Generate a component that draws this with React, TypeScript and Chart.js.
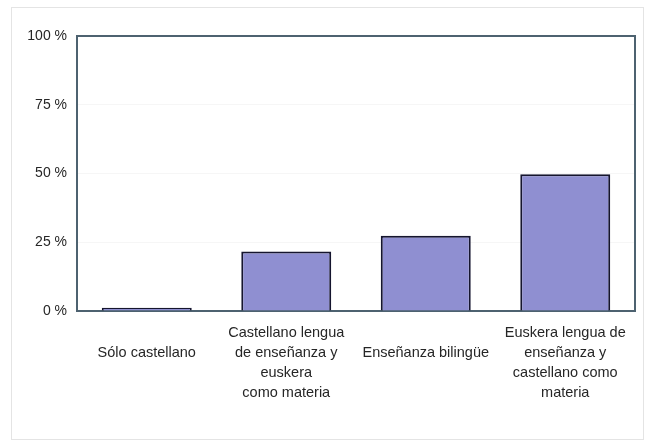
import React, { useEffect, useRef } from "react";
import { Chart, registerables } from "chart.js";

Chart.register(...registerables);

const categories: string[][] = [
  ["", "Sólo castellano"],
  ["Castellano lengua", "de enseñanza y", "euskera", "como materia"],
  ["", "Enseñanza bilingüe"],
  ["Euskera lengua de", "enseñanza y", "castellano como", "materia"],
];
const values: number[] = [1.2, 21.6, 27.4, 49.7];
const yTicks: number[] = [0, 25, 50, 75, 100];

const frameBorder = {
  id: "frameBorder",
  beforeDatasetsDraw(chart: any) {
    const { ctx, chartArea } = chart;
    ctx.save();
    ctx.strokeStyle = "#4d6270";
    ctx.lineWidth = 2;
    ctx.strokeRect(chartArea.left, chartArea.top, chartArea.right - chartArea.left, chartArea.bottom - chartArea.top);
    ctx.restore();
  },
};

export default function App() {
  const ref = useRef<HTMLCanvasElement | null>(null);
  useEffect(() => {
    if (!ref.current) return;
    const chart = new Chart(ref.current, {
      type: "bar",
      data: {
        labels: categories,
        datasets: [
          {
            data: values,
            backgroundColor: "#8f8fd1",
            borderColor: "#15152e",
            borderWidth: 2,
            categoryPercentage: 1,
            barPercentage: 0.645,
          },
        ],
      },
      options: {
        responsive: false,
        animation: false,
        layout: { padding: { left: 0, top: 36, right: 16, bottom: 13 } },
        plugins: { legend: { display: false }, tooltip: { enabled: false } },
        scales: {
          x: {
            grid: { display: false, drawTicks: false },
            border: { display: false },
            ticks: {
              padding: 12,
              maxRotation: 0,
              autoSkip: false,
              color: "#262626",
              font: { family: "'Liberation Sans', Arial, sans-serif", size: 14.5, lineHeight: 1.38 },
            },
            afterFit(scale: any) {
              scale.height = 120;
            },
          },
          y: {
            min: 0,
            max: 100,
            afterBuildTicks(scale: any) {
              scale.ticks = yTicks.map((v) => ({ value: v }));
            },
            grid: { color: "rgba(0,0,0,0.035)", drawTicks: false },
            border: { display: false },
            ticks: {
              padding: 10,
              color: "#262626",
              font: { family: "'Liberation Sans', Arial, sans-serif", size: 14 },
              callback: (v: any) => v + " %",
            },
            afterFit(scale: any) {
              scale.width = 77;
            },
          },
        },
      },
      plugins: [frameBorder],
    });
    return () => chart.destroy();
  }, []);
  return (
    <div style={{ position: "fixed", left: 0, top: 0, width: 651, height: 444, background: "#fff" }}>
      <div
        style={{
          position: "absolute",
          left: 11,
          top: 7,
          width: 633,
          height: 433,
          border: "1px solid #e4e4e4",
          boxSizing: "border-box",
        }}
      />
      <canvas ref={ref} width={651} height={444} style={{ position: "absolute", left: 0, top: 0 }} />
    </div>
  );
}
